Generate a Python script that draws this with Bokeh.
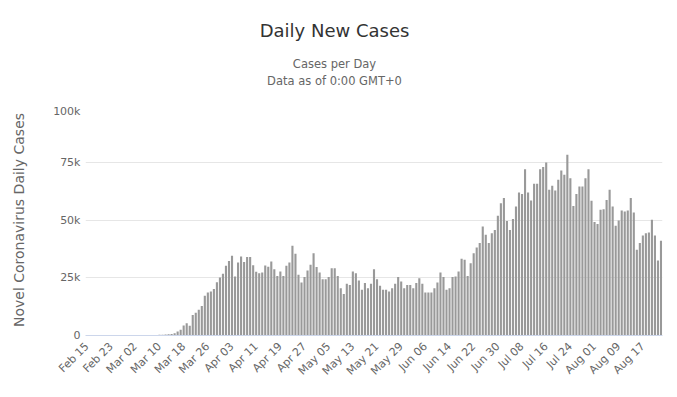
from math import pi
from bokeh.plotting import figure
from bokeh.layouts import column
from bokeh.models import Range1d, FixedTicker, Label
from bokeh.embed import file_html
from bokeh.resources import INLINE

# Daily new cases, one value per day from Feb 15 to Aug 23
values = [
    0, 0, 0, 0, 0, 0, 0, 0, 0, 0, 0, 0, 0, 1, 8,
    7, 23, 20, 31, 68, 45, 140, 116, 65, 376, 322, 382, 516,
    600, 1000, 1700, 2500, 4300, 5300, 4200, 8900, 9900, 11100, 12800, 17200,
    18600, 19000, 20100, 23000, 25100, 26700,
    30200, 32300, 34500, 25500, 31600, 34200, 31800, 34000, 34000, 30400,
    27600, 26900, 27300, 30300, 29800, 32000, 28700, 25800,
    27700, 25800, 30200, 31600, 38800, 35400, 26300, 22900, 25300, 28100,
    30600, 35600, 29600, 27300, 24400, 24400, 25300, 29100, 29100, 25800,
    20500, 18000, 22400, 21900, 27700, 27000, 23800, 19800, 22700, 20500,
    22400, 28700, 24400, 21500, 19800, 19800, 19000, 20500, 22400, 25300,
    23400, 20500, 21900, 21900, 20500, 22700, 24800, 22400, 18600, 18600,
    18600, 20500, 22900, 27300, 25300, 19800, 20500, 25300, 25500, 27700,
    33200, 32800, 25800,
    31300, 35600, 38100, 40000, 47200, 43600, 40000, 44300, 45700, 51800,
    57300, 59500, 49600, 45700, 50400, 55800, 61900, 61300, 72000, 61900,
    58400, 65700, 65700, 72000, 72900, 74900, 63100, 64800, 62800, 67400,
    71400, 69600, 78200, 68100, 56100, 61300, 64500, 64500, 68100, 72000,
    58300, 49100, 48300, 54400, 54700, 58700, 63100, 55800, 47500, 49800,
    54100, 53700, 54100, 59500, 53200, 37100, 40000, 43300, 44300, 44600,
    50100, 43300, 32500, 41000,
]

x_tick_labels = ["Feb 15", "Feb 23", "Mar 02", "Mar 10", "Mar 18", "Mar 26",
                 "Apr 03", "Apr 11", "Apr 19", "Apr 27", "May 05", "May 13",
                 "May 21", "May 29", "Jun 06", "Jun 14", "Jun 22", "Jun 30",
                 "Jul 08", "Jul 16", "Jul 24", "Aug 01", "Aug 09", "Aug 17"]
x_tick_step = 8

y_ticks = [0, 25000, 50000, 75000, 100000]
y_tick_labels = ["0", "25k", "50k", "75k", "100k"]
y_max = 100000

title_text = "Daily New Cases"
subtitle_lines = ["Cases per Day", "Data as of 0:00 GMT+0"]
y_axis_title = "Novel Coronavirus Daily Cases"

FONT = "DejaVu Sans"
n = len(values)

# ---- heading strip (text only; its frame is aligned with the chart's frame) ----
head = figure(width=677, height=104, output_backend="svg", toolbar_location=None,
              x_range=Range1d(0, 1), y_range=Range1d(0, 1),
              x_axis_location=None, y_axis_location=None,
              min_border_left=85, min_border_right=15, min_border_top=0,
              min_border_bottom=0)
head.outline_line_color = None
head.grid.visible = False
head.background_fill_color = "white"
head.border_fill_color = "white"
cx = 249  # 334 px from the page's left edge
head.add_layout(Label(x=cx, y=74, x_units="screen", y_units="screen", text=title_text,
                      text_align="center", text_baseline="middle", text_font=FONT,
                      text_font_size="18px", text_color="#333333"))
head.add_layout(Label(x=cx, y=41, x_units="screen", y_units="screen", text=subtitle_lines[0],
                      text_align="center", text_baseline="middle", text_font=FONT,
                      text_font_size="11.5px", text_color="#666666"))
head.add_layout(Label(x=cx, y=24, x_units="screen", y_units="screen", text=subtitle_lines[1],
                      text_align="center", text_baseline="middle", text_font=FONT,
                      text_font_size="11.5px", text_color="#666666"))

# ---- chart ----
p = figure(width=677, height=293, output_backend="svg", toolbar_location=None,
           x_range=Range1d(-0.5, n - 0.5), y_range=Range1d(0, y_max),
           min_border_left=85, min_border_right=15, min_border_top=0,
           min_border_bottom=62)
p.outline_line_color = None
p.background_fill_color = "white"
p.border_fill_color = "white"

p.vbar(x=list(range(n)), top=values, width=0.7, color="#999999", line_color=None)

# x axis
x_positions = [i * x_tick_step for i in range(len(x_tick_labels))]
p.xaxis.ticker = FixedTicker(ticks=x_positions)
p.xaxis.major_label_overrides = {pos: lab for pos, lab in zip(x_positions, x_tick_labels)}
p.xaxis.major_label_orientation = pi / 4
p.xaxis.major_tick_out = 0
p.xaxis.major_tick_in = 0
p.xaxis.minor_tick_out = 0
p.xaxis.minor_tick_in = 0
p.xaxis.axis_line_color = "#ccd6eb"
p.xaxis.major_label_text_color = "#666666"
p.xaxis.major_label_text_font = FONT
p.xaxis.major_label_text_font_size = "11px"
p.xaxis.major_label_standoff = 9
p.xgrid.grid_line_color = None

# y axis
p.yaxis.ticker = FixedTicker(ticks=y_ticks)
p.yaxis.major_label_overrides = {t: lab for t, lab in zip(y_ticks, y_tick_labels)}
p.yaxis.axis_line_color = None
p.yaxis.major_tick_out = 0
p.yaxis.major_tick_in = 0
p.yaxis.minor_tick_out = 0
p.yaxis.minor_tick_in = 0
p.yaxis.major_label_text_color = "#666666"
p.yaxis.major_label_text_font = FONT
p.yaxis.major_label_text_font_size = "11px"
p.yaxis.major_label_standoff = 5
p.yaxis.axis_label = y_axis_title
p.yaxis.axis_label_text_font = FONT
p.yaxis.axis_label_text_font_size = "14px"
p.yaxis.axis_label_text_font_style = "normal"
p.yaxis.axis_label_text_color = "#666666"
p.yaxis.axis_label_standoff = 23
p.ygrid.grid_line_color = "#e6e6e6"

layout = column(head, p, spacing=0)
open("out.html", "w").write(file_html(layout, INLINE))
